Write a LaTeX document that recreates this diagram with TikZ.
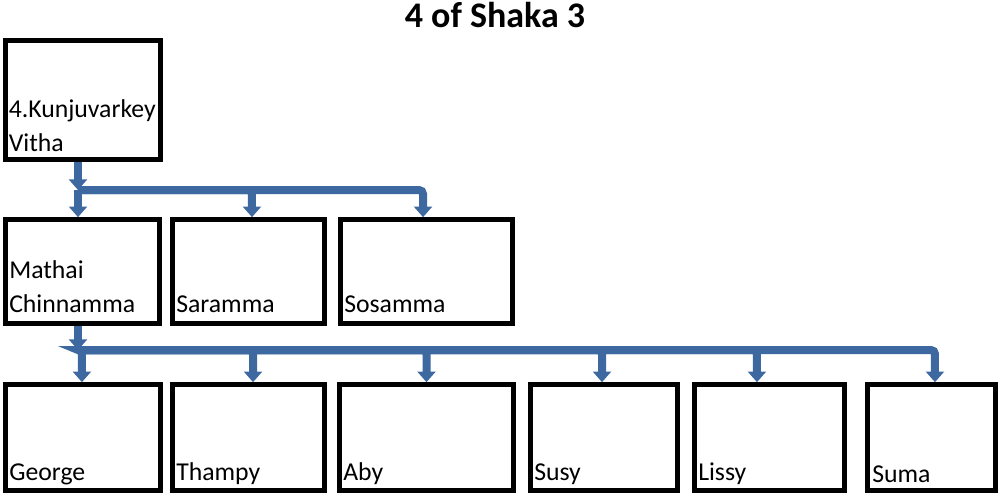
\documentclass[tikz,border=0pt]{standalone}
\usepackage{fontspec}
\setmainfont{Carlito}
\usetikzlibrary{arrows.meta,fit}
\definecolor{conncol}{RGB}{62,104,160}
\begin{document}
\begin{tikzpicture}[x=0.75pt,y=-0.75pt,
  box/.style={draw=black,line width=3.5pt,inner sep=0pt},
  lbl/.style={anchor=base west,inner sep=0pt,align=left,font=\fontsize{19.3}{25.5}\selectfont},
  conn/.style={draw=conncol,line width=6pt,-{Triangle[width=13.5pt,length=8pt]},rounded corners=3pt},
  ttl/.style={font=\fontsize{27}{32}\selectfont\bfseries,inner sep=0pt,anchor=base}]
\useasboundingbox (0,0) rectangle (1000,496);
\fill[white] (0,0) rectangle (1000,496);

\node[ttl] (title) at (495,27) {4 of Shaka 3};

% boxes (outer edge inset by half the line width)
\node[box, fit={(5.5,40.5) (160.5,159.5)}] (K) {};
\node[box, fit={(5.5,219.5) (159.5,323.5)}] (Mathai) {};
\node[box, fit={(172.5,219.5) (324.5,323.5)}] (Saramma) {};
\node[box, fit={(340.5,219.5) (512.5,323.5)}] (Sosamma) {};
\node[box, fit={(5.5,384.5) (160.5,490.5)}] (George) {};
\node[box, fit={(172.5,384.5) (324.5,490.5)}] (Thampy) {};
\node[box, fit={(339.5,384.5) (513.5,490.5)}] (Aby) {};
\node[box, fit={(530.5,384.5) (677.5,490.5)}] (Susy) {};
\node[box, fit={(694.5,384.5) (844.5,490.5)}] (Lissy) {};
\node[box, fit={(867.5,384.5) (995.5,490.5)}] (Suma) {};

% labels (anchor = baseline of the last line)
\node[lbl] (tK) at (8.5,151) {4.Kunjuvarkey\\Vitha};
\node[lbl] (tMathai) at (9,312) {Mathai\\Chinnamma};
\node[lbl] (tSaramma) at (176,312) {Saramma};
\node[lbl] (tSosamma) at (344,312) {Sosamma};
\node[lbl] (tGeorge) at (9,480) {George};
\node[lbl] (tThampy) at (176,480) {Thampy};
\node[lbl] (tAby) at (343,480) {Aby};
\node[lbl] (tSusy) at (534,480) {Susy};
\node[lbl] (tLissy) at (698,480) {Lissy};
\node[lbl] (tSuma) at (872,482) {Suma};

% connectors, first generation
\coordinate (j1) at (78,190);
\draw[conn] (j1 |- K.south) -- (j1);
\draw[conn] (j1) -- (j1 |- Mathai.north);
\draw[conn] (j1) -| ([xshift=2.6pt]Saramma.north);
\draw[conn] (j1) -| ([xshift=-2.6pt]Sosamma.north);

% connectors, second generation
\coordinate (j2) at (78,350);
\draw[conn] (j2 |- Mathai.south) -- (j2);
\draw[conn] (j2) -| ([xshift=-0.8pt]George.north);
\draw[conn] (j2) -| ([xshift=3.4pt]Thampy.north);
\draw[conn] (j2) -| (Aby.north);
\draw[conn] (j2) -| ([xshift=-1.5pt]Susy.north);
\draw[conn] (j2) -| ([xshift=-9.4pt]Lissy.north);
\draw[conn] (j2) -| ([xshift=2.6pt]Suma.north);
\end{tikzpicture}
\end{document}
